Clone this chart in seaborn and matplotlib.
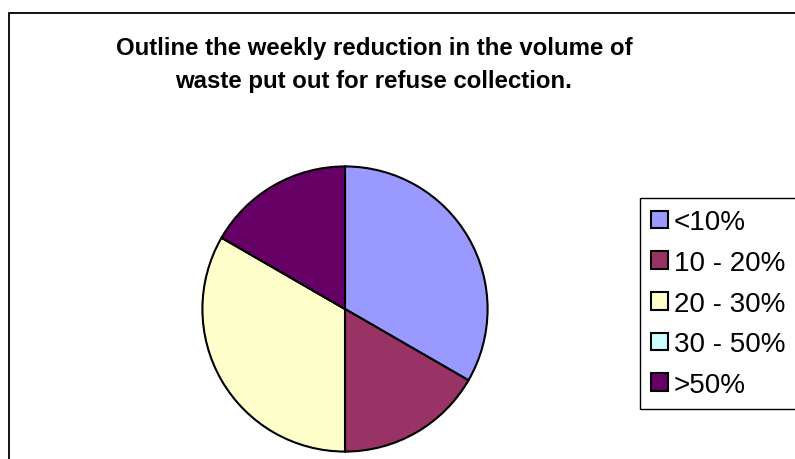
import matplotlib
matplotlib.use("Agg")
import matplotlib.pyplot as plt
import matplotlib.patches as mpatches
import seaborn as sns

categories = ["<10%", "10 - 20%", "20 - 30%", "30 - 50%", ">50%"]
values = [2, 1, 2, 0, 1]
colors = ["#9999FF", "#993366", "#FFFFCC", "#CCFFFF", "#660066"]
title_lines = ["Outline the weekly reduction in the volume of",
               "waste put out for refuse collection."]

sns.set_theme(style="white")
plt.rcParams['font.family'] = ['Liberation Sans', 'DejaVu Sans']
plt.rcParams['text.color'] = 'black'

W, H = 795, 460
fig = plt.figure(figsize=(W / 100, H / 100), dpi=100)
fig.patch.set_facecolor("white")

# outer chart frame
frame = mpatches.Rectangle((9 / W, -0.1), 1.2, 1.1 - 14 / H,
                           transform=fig.transFigure, fill=False,
                           edgecolor="black", linewidth=1.3)
fig.patches.append(frame)

# pie axes
cx, cy, r = 345, 310, 144
ax = fig.add_axes([(cx - r) / W, (H - cy - r) / H, 2 * r / W, 2 * r / H])
wedges, _ = ax.pie(values, colors=colors, startangle=90, counterclock=False,
                   radius=1.0,
                   wedgeprops=dict(edgecolor="black", linewidth=1.5))
ax.set_xlim(-1.01, 1.01)
ax.set_ylim(-1.01, 1.01)
ax.set_aspect("equal")
ax.axis("off")

# title
fig.text(374 / W, 1 - 55 / H, title_lines[0], ha="center", va="baseline",
         fontsize=17.3, fontweight="bold", color="black")
fig.text(374 / W, 1 - 88 / H, title_lines[1], ha="center", va="baseline",
         fontsize=17.3, fontweight="bold", color="black")

handles = [mpatches.Patch(facecolor=c, edgecolor="black", linewidth=1.5)
           for c in colors]
leg = fig.legend(handles, categories, loc="upper left",
                 bbox_to_anchor=(640 / W, 1 - 199 / H),
                 frameon=True, fancybox=False, fontsize=20,
                 handlelength=0.6, handleheight=0.6, handletextpad=0.22,
                 labelspacing=0.53, borderpad=0.4, borderaxespad=0,
                 edgecolor="black", framealpha=1)
leg.get_frame().set_linewidth(1.0)
for t in leg.get_texts():
    t.set_color("black")

fig.savefig("out.png", dpi=100, facecolor="white")
